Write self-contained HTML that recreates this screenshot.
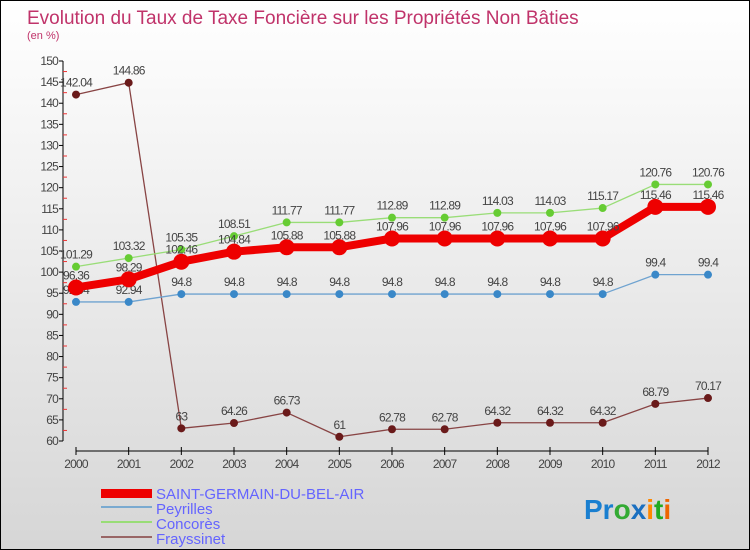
<!DOCTYPE html>
<html><head><meta charset="utf-8"><style>
body{margin:0}
#c{width:750px;height:550px;box-sizing:border-box;border:1px solid #000;background:linear-gradient(#fff,#f3f3f3 30%,#d6d6d6);position:relative;overflow:hidden;font-family:"Liberation Sans",sans-serif}
svg{position:absolute;left:0;top:0}
</style></head><body>
<div id="c">
<svg id="s" width="750" height="550">
<text x="26" y="23" font-size="19" fill="#c0336a">Evolution du Taux de Taxe Foncière sur les Propriétés Non Bâties</text>
<text x="26" y="38" font-size="11" fill="#c0336a">(en %)</text>
<g id="legend">
<rect x="100" y="488" width="51" height="9" fill="#e00"/>
<text x="155" y="498" font-size="15" fill="#6464ff">SAINT-GERMAIN-DU-BEL-AIR</text>
<line x1="100" y1="506" x2="151" y2="506" stroke="#7aaad0" stroke-width="2"/>
<text x="155" y="513" font-size="15" fill="#6464ff">Peyrilles</text>
<line x1="100" y1="521" x2="151" y2="521" stroke="#99dd77" stroke-width="2"/>
<text x="155" y="528" font-size="15" fill="#6464ff">Concorès</text>
<line x1="100" y1="536" x2="151" y2="536" stroke="#996666" stroke-width="2"/>
<text x="155" y="543" font-size="15" fill="#6464ff">Frayssinet</text>
</g>
<text x="583" y="518" font-size="28" font-weight="bold"><tspan fill="#1a7fd0">Pr</tspan><tspan fill="#3a3">o</tspan><tspan fill="#1a6fc0">x</tspan><tspan fill="#f80">i</tspan><tspan fill="#2a2">t</tspan><tspan fill="#e60">i</tspan></text>
</svg>
</div>
<script>
const years=[2000,2001,2002,2003,2004,2005,2006,2007,2008,2009,2010,2011,2012];
const yTicks=[60,65,70,75,80,85,90,95,100,105,110,115,120,125,130,135,140,145,150];
const mainVals=[96.36,98.29,102.46,104.84,105.88,105.88,107.96,107.96,107.96,107.96,107.96,115.46,115.46];
const peyVals=[92.94,92.94,94.8,94.8,94.8,94.8,94.8,94.8,94.8,94.8,94.8,99.4,99.4];
const conVals=[101.29,103.32,105.35,108.51,111.77,111.77,112.89,112.89,114.03,114.03,115.17,120.76,120.76];
const fraVals=[142.04,144.86,63,64.26,66.73,61,62.78,62.78,64.32,64.32,64.32,68.79,70.17];
const NS="http://www.w3.org/2000/svg",s=document.getElementById('s');
const X=i=>75+i*(707-75)/(years.length-1);
const Y=v=>440-(v-60)*(440-60)/90;
function mk(t,a,p){const e=document.createElementNS(NS,t);for(const k in a)e.setAttribute(k,a[k]);(p||s).appendChild(e);return e;}
const ax=mk('g',{});


let l=mk('line',{x1:62,y1:60,x2:62,y2:440,stroke:'#000'},ax);


yTicks.forEach((v,i)=>{mk('line',{x1:58,y1:Y(v),x2:62,y2:Y(v),stroke:'#000'},ax);
if(i<yTicks.length-1)mk('line',{x1:62,y1:Y(v+2.5),x2:66,y2:Y(v+2.5),stroke:'#e33'},ax);
const t=mk('text',{x:57,y:Y(v)+4,'font-size':12,fill:'#444','text-anchor':'end','letter-spacing':'-0.8'},ax);t.textContent=v;

});
l=mk('line',{x1:75,y1:450,x2:707,y2:450,stroke:'#000'},ax);


years.forEach((y,i)=>{mk('line',{x1:X(i),y1:446,x2:X(i),y2:454,stroke:'#000'},ax);
const t=mk('text',{x:X(i),y:467,'font-size':12,fill:'#444','text-anchor':'middle','letter-spacing':'-0.8'},ax);t.textContent=y;

});
function series(vals,color,w,r,name,dot){const g=mk('g',{});


mk('polyline',{points:vals.map((v,i)=>X(i)+','+Y(v)).join(' '),fill:'none',stroke:color,'stroke-width':w,'stroke-linejoin':'round'},g);
vals.forEach((v,i)=>{const c=mk('circle',{cx:X(i),cy:Y(v),r:r,fill:dot},g);


const t=mk('text',{x:X(i),y:Y(v)-8,'font-size':12,fill:'#444','text-anchor':'middle','letter-spacing':'-0.8'},g);t.textContent=v;

});}
series(fraVals,'#884444',1.3,4,'frayssinet-series','#6a1a1a');
series(peyVals,'#6fa3d0',1.3,4,'peyrilles-series','#3a88c8');
series(conVals,'#99dd77',1.3,4,'concores-series','#66cc33');
series(mainVals,'#ee0000',8,8,'main-series','#ee0000');
</script>
</body></html>
